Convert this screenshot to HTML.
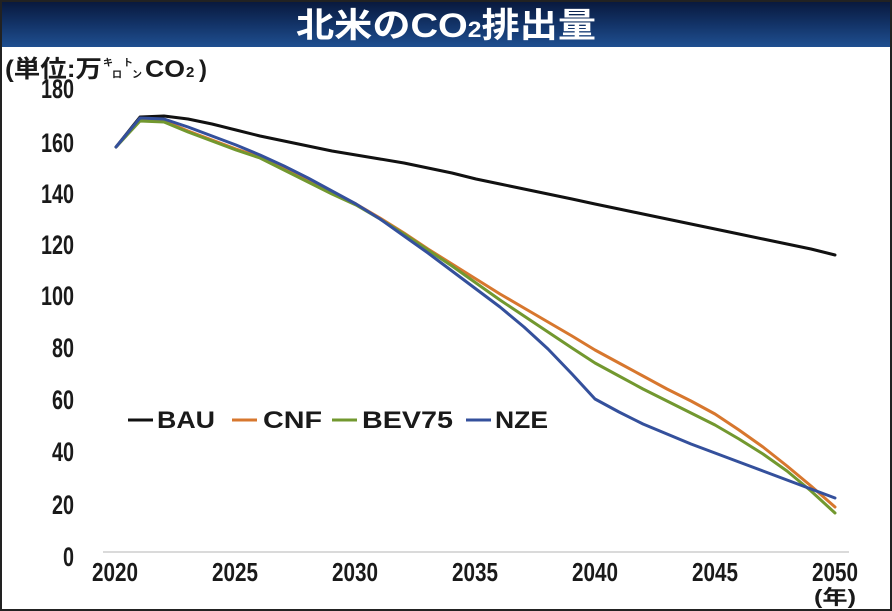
<!DOCTYPE html>
<html>
<head>
<meta charset="utf-8">
<style>
html,body{margin:0;padding:0;background:#fff;}
svg{display:block;}
</style>
</head>
<body>
<svg width="892" height="611" viewBox="0 0 892 611" xmlns="http://www.w3.org/2000/svg">
<defs>
<linearGradient id="tb" x1="0" y1="0" x2="0" y2="1">
<stop offset="0" stop-color="#08173a"/>
<stop offset="0.5" stop-color="#123266"/>
<stop offset="1" stop-color="#1f4f90"/>
</linearGradient>
</defs>
<rect x="0" y="0" width="892" height="611" fill="#fff"/>
<rect x="0" y="0" width="892" height="47" fill="url(#tb)"/>
<rect x="1" y="1" width="890" height="609" fill="none" stroke="#222" stroke-width="2"/>

<text x="446" y="37" text-anchor="middle" textLength="300" lengthAdjust="spacingAndGlyphs" font-family="'Liberation Sans','Noto Sans CJK JP',sans-serif" font-weight="bold" font-size="34" fill="#fff">北米のCO<tspan font-size="22">2</tspan>排出量</text>

<g font-family="'Liberation Sans','Noto Sans CJK JP',sans-serif" font-weight="bold" fill="#1a1a1a">
<text x="5" y="77" font-size="24" textLength="97" lengthAdjust="spacingAndGlyphs">(単位:万</text>
<text x="103" y="66" font-size="10">キ</text>
<text x="112" y="78" font-size="10">ロ</text>
<text x="123" y="66" font-size="10">ト</text>
<text x="132" y="78" font-size="10">ン</text>
<text x="145" y="77" font-size="24" textLength="40" lengthAdjust="spacingAndGlyphs">CO</text>
<text x="186" y="77" font-size="15">2</text>
<text x="199" y="77" font-size="24">)</text>
</g>

<g font-family="'Liberation Sans Narrow','Liberation Sans',sans-serif" font-weight="bold" font-size="27" fill="#1a1a1a" text-anchor="end">
<text x="74" y="98" textLength="33" lengthAdjust="spacingAndGlyphs">180</text>
<text x="74" y="152" textLength="33" lengthAdjust="spacingAndGlyphs">160</text>
<text x="74" y="203" textLength="33" lengthAdjust="spacingAndGlyphs">140</text>
<text x="74" y="254" textLength="33" lengthAdjust="spacingAndGlyphs">120</text>
<text x="74" y="305" textLength="33" lengthAdjust="spacingAndGlyphs">100</text>
<text x="74" y="357" textLength="22" lengthAdjust="spacingAndGlyphs">80</text>
<text x="74" y="409" textLength="22" lengthAdjust="spacingAndGlyphs">60</text>
<text x="74" y="461" textLength="22" lengthAdjust="spacingAndGlyphs">40</text>
<text x="74" y="514" textLength="22" lengthAdjust="spacingAndGlyphs">20</text>
<text x="74" y="566" textLength="11" lengthAdjust="spacingAndGlyphs">0</text>
</g>

<line x1="103" y1="552" x2="849" y2="552" stroke="#dadada" stroke-width="2"/>

<g font-family="'Liberation Sans Narrow','Liberation Sans',sans-serif" font-weight="bold" font-size="26" fill="#1a1a1a" text-anchor="middle">
<text x="115" y="581" textLength="46" lengthAdjust="spacingAndGlyphs">2020</text>
<text x="235" y="581" textLength="46" lengthAdjust="spacingAndGlyphs">2025</text>
<text x="355" y="581" textLength="46" lengthAdjust="spacingAndGlyphs">2030</text>
<text x="475" y="581" textLength="46" lengthAdjust="spacingAndGlyphs">2035</text>
<text x="595" y="581" textLength="46" lengthAdjust="spacingAndGlyphs">2040</text>
<text x="715" y="581" textLength="46" lengthAdjust="spacingAndGlyphs">2045</text>
<text x="835" y="581" textLength="46" lengthAdjust="spacingAndGlyphs">2050</text>
</g>
<text x="835" y="604" text-anchor="middle" textLength="42" lengthAdjust="spacingAndGlyphs" font-family="'Liberation Sans','Noto Sans CJK JP',sans-serif" font-weight="bold" font-size="20" fill="#1a1a1a">(年)</text>

<g fill="none" stroke-width="3" stroke-linejoin="round" stroke-linecap="round">
<polyline stroke="#111" points="116,147 140,117 164,116 188,119 212,124 236,130 260,136 284,141 308,146 332,151 356,155 380,159 404,163 428,168 452,173 476,179 500,184 524,189 548,194 572,199 595,204 619,209 643,214 667,219 691,224 715,229 739,234 763,239 787,244 811,249 835,255"/>
<polyline stroke="#d7772e" points="116,147 140,120 164,121 188,131 212,140 236,149 260,157 284,168 308,180 332,192 356,204 380,218 404,233 428,249 452,264 476,279 500,294 524,308 548,322 572,336 595,350 619,363 643,376 667,389 691,401 715,414 739,430 763,447 787,466 811,486 835,507"/>
<polyline stroke="#72982f" points="116,147 140,121 164,122 188,132 212,141 236,150 260,158 284,170 308,182 332,194 356,205 380,219 404,234 428,250 452,266 476,283 500,300 524,316 548,332 572,348 595,363 619,376 643,389 667,401 691,413 715,425 739,439 763,454 787,471 811,491 835,513"/>
<polyline stroke="#34509c" points="116,147 140,118 164,119 188,127 212,136 236,145 260,155 284,166 308,178 332,191 356,204 380,219 404,236 428,253 452,271 476,289 500,307 524,327 548,349 572,374 595,399 619,412 643,424 667,434 691,444 715,453 739,462 763,471 787,480 811,489 835,498"/>
</g>

<g stroke-width="3">
<line x1="128" y1="420" x2="153" y2="420" stroke="#111"/>
<line x1="232" y1="420" x2="257" y2="420" stroke="#d7772e"/>
<line x1="332" y1="420" x2="357" y2="420" stroke="#72982f"/>
<line x1="466" y1="420" x2="491" y2="420" stroke="#34509c"/>
</g>
<g font-family="'Liberation Sans',sans-serif" font-weight="bold" font-size="24" fill="#1a1a1a">
<text x="157" y="428" textLength="58" lengthAdjust="spacingAndGlyphs">BAU</text>
<text x="263" y="428" textLength="59" lengthAdjust="spacingAndGlyphs">CNF</text>
<text x="362" y="428" textLength="91" lengthAdjust="spacingAndGlyphs">BEV75</text>
<text x="495" y="428" textLength="53" lengthAdjust="spacingAndGlyphs">NZE</text>
</g>
</svg>
</body>
</html>
